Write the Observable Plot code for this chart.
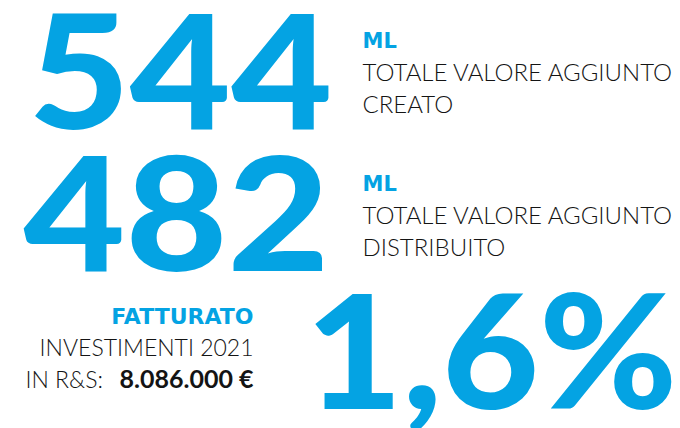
<!DOCTYPE html>
<html>
<head>
<meta charset="utf-8">
<script src="https://cdn.jsdelivr.net/npm/d3@7"></script>
<script src="https://cdn.jsdelivr.net/npm/@observablehq/plot@0.6"></script>
<style>
  html, body { margin: 0; padding: 0; background: #fff; }
</style>
</head>
<body>
<div id="chart"></div>
<script>
// ---- data ----
const bigNumbers = ["544", "482", "1,6%"];
const unitLabels = ["ML", "ML", "FATTURATO"];
const descLine1 = ["TOTALE VALORE AGGIUNTO", "TOTALE VALORE AGGIUNTO", "INVESTIMENTI 2021"];
const descLine2 = ["CREATO", "DISTRIBUITO", "IN R&S: "];
const descBold = ["", "", "8.086.000 €"];

// ---- layout (pixel slots) ----
const BLUE = "#04a3e3";
const INK = "#141414";
const bigPos = [
  {x: 28, y: 128, w: 304},
  {x: 23, y: 270, w: 306},
  {x: 305, y: 408, w: 372}
];
const textPos = [
  {x: 362, y: [47, 80, 112], anchor: "start"},
  {x: 362, y: [190, 223, 255], anchor: "start"},
  {x: 253, y: [323, 355, 387], anchor: "end"}
];

const big = bigNumbers.map((t, i) => ({text: t, ...bigPos[i]}));
const rows = unitLabels.map((u, i) => ({
  unit: u, l1: descLine1[i], l2: descLine2[i], bold: descBold[i],
  x: textPos[i].x, y0: textPos[i].y[0], y1: textPos[i].y[1], y2: textPos[i].y[2], anchor: textPos[i].anchor
}));
const rightRows = rows.filter(d => d.anchor === "start");
const leftRows = rows.filter(d => d.anchor === "end");

const common = {lineAnchor: "bottom"};
const BOLDFONT = "DejaVu Sans";
const chart = Plot.plot({
  width: 680,
  height: 428,
  margin: 0,
  x: {type: "identity", axis: null},
  y: {type: "identity", axis: null},
  style: {background: "#fff"},
  marks: [
    Plot.text(big, {x: "x", y: "y", text: "text", textAnchor: "start", ...common,
      fill: BLUE, fontSize: 158, fontWeight: 900, fontFamily: "Lato", className: "big"}),
    // right-hand blocks
    Plot.text(rightRows, {x: "x", y: "y0", text: "unit", textAnchor: "start", ...common,
      fill: BLUE, fontSize: 21, fontWeight: 700, fontFamily: BOLDFONT, letterSpacing: 0.5}),
    Plot.text(rightRows, {x: "x", y: "y1", text: "l1", textAnchor: "start", ...common,
      fill: INK, fontSize: 24, fontWeight: 300, fontFamily: "Lato"}),
    Plot.text(rightRows, {x: "x", y: "y2", text: "l2", textAnchor: "start", ...common,
      fill: INK, fontSize: 24, fontWeight: 300, fontFamily: "Lato"}),
    // bottom-left block
    Plot.text(leftRows, {x: "x", y: "y0", text: "unit", textAnchor: "end", ...common,
      fill: BLUE, fontSize: 22, fontWeight: 700, fontFamily: BOLDFONT, letterSpacing: 0.4}),
    Plot.text(leftRows, {x: "x", y: "y1", text: "l1", textAnchor: "end", ...common,
      fill: INK, fontSize: 23, fontWeight: 300, fontFamily: "Lato"}),
    Plot.text(leftRows, {x: () => 25, y: "y2", text: "l2", textAnchor: "start", ...common,
      fill: INK, fontSize: 23, fontWeight: 300, fontFamily: "Lato"}),
    Plot.text(leftRows, {x: "x", y: "y2", text: "bold", textAnchor: "end", ...common,
      fill: INK, fontSize: 25, fontWeight: 700, fontFamily: "Lato", letterSpacing: 1.5})
  ]
});
document.getElementById("chart").appendChild(chart);

// stretch the big figures horizontally to the reference width
chart.querySelectorAll("g.big text").forEach((el, i) => {
  const bb = el.getBBox();
  const target = big[i].w;
  const sx = target / bb.width;
  const t = el.getAttribute("transform") || "";
  el.setAttribute("transform", `${t} scale(${sx},1)`);
});
</script>
</body>
</html>
